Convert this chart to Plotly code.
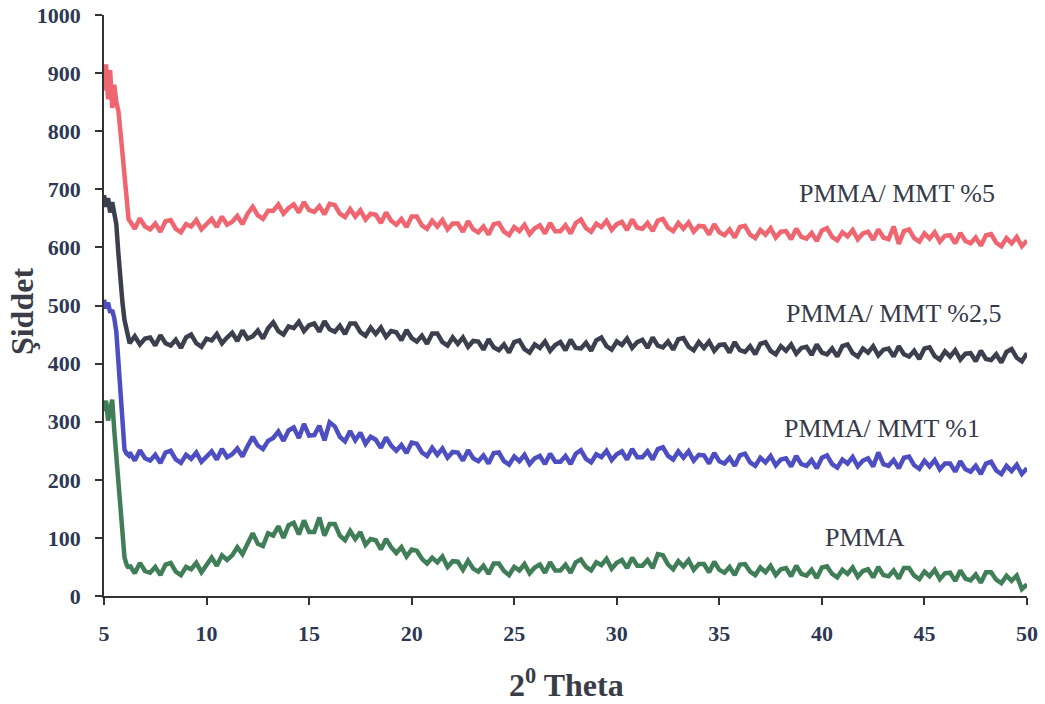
import plotly.graph_objects as go

# ---- data (2-theta in degrees, intensity) ----
theta_start = [5.0, 5.1, 5.2, 5.3, 5.4, 5.5, 5.6, 5.7, 5.8, 5.9, 6.0, 6.1, 6.2]
theta_main = [round(6.25 + 0.25 * i, 2) for i in range(176)]  # 6.25 ... 50.0 sampling grid
two_theta = theta_start + theta_main

pmma_mmt5 = [870, 915, 855, 905, 840, 880, 850, 835, 800, 760, 720, 680, 648,
    646, 632, 650, 636, 631, 641, 627, 645, 647, 632, 626, 640, 636, 647, 631, 641,
    649, 635, 653, 639, 644, 654, 640, 658, 670, 655, 649, 663, 663, 674, 658, 668,
    674, 660, 678, 664, 661, 671, 657, 675, 673, 658, 652, 666, 653, 664, 648, 658,
    656, 642, 660, 646, 639, 649, 635, 653, 653, 638, 632, 646, 636, 647, 631, 641,
    641, 627, 645, 631, 626, 636, 622, 640, 642, 627, 621, 635, 628, 639, 623, 633,
    638, 624, 642, 628, 628, 638, 624, 642, 648, 633, 627, 641, 635, 646, 630, 640,
    644, 630, 648, 634, 632, 642, 628, 646, 649, 634, 628, 642, 632, 643, 627, 637,
    636, 622, 640, 626, 621, 631, 617, 635, 637, 622, 616, 630, 622, 633, 617, 627,
    628, 614, 632, 618, 615, 625, 611, 629, 633, 618, 612, 626, 619, 630, 614, 624,
    627, 613, 631, 617, 614, 636, 606, 628, 631, 616, 610, 624, 615, 626, 610, 620,
    621, 607, 625, 611, 607, 617, 603, 621, 623, 608, 602, 616, 607, 618, 602, 612]

pmma_mmt25 = [690, 670, 685, 660, 678, 655, 640, 590, 540, 505, 475, 458, 448,
    435, 447, 433, 443, 445, 431, 449, 435, 431, 441, 427, 445, 450, 435, 429, 443,
    440, 451, 435, 445, 453, 439, 457, 443, 447, 457, 443, 461, 471, 456, 450, 464,
    461, 472, 456, 466, 469, 455, 473, 459, 455, 465, 451, 469, 469, 454, 448, 462,
    451, 462, 446, 456, 454, 440, 458, 444, 438, 448, 434, 452, 452, 437, 431, 445,
    434, 445, 429, 439, 438, 424, 442, 428, 423, 433, 419, 437, 440, 425, 419, 433,
    427, 438, 422, 432, 437, 423, 441, 427, 426, 436, 422, 440, 445, 430, 424, 438,
    432, 443, 427, 437, 441, 427, 445, 431, 428, 438, 424, 442, 444, 429, 423, 437,
    427, 438, 422, 432, 433, 419, 437, 423, 420, 430, 416, 434, 437, 422, 416, 430,
    422, 433, 417, 427, 429, 415, 433, 419, 416, 426, 412, 430, 433, 418, 412, 426,
    419, 430, 414, 424, 426, 412, 430, 416, 412, 422, 408, 426, 428, 413, 407, 421,
    412, 423, 407, 417, 418, 404, 422, 408, 406, 416, 402, 420, 425, 410, 404, 418]

pmma_mmt1 = [510, 495, 505, 488, 492, 478, 455, 400, 345, 280, 252, 245, 242,
    247, 233, 251, 237, 233, 243, 229, 247, 250, 235, 229, 243, 236, 247, 231, 241,
    249, 235, 253, 239, 244, 254, 240, 258, 274, 259, 253, 267, 272, 283, 267, 285,
    290, 272, 296, 276, 277, 293, 268, 299, 292, 274, 266, 284, 268, 281, 262, 274,
    269, 255, 273, 259, 250, 260, 246, 264, 262, 247, 241, 255, 243, 254, 238, 248,
    247, 233, 251, 237, 232, 242, 228, 246, 247, 232, 226, 240, 232, 243, 227, 237,
    241, 227, 245, 231, 231, 241, 227, 245, 251, 236, 230, 244, 239, 250, 234, 244,
    249, 235, 253, 239, 239, 249, 235, 253, 256, 241, 235, 249, 238, 249, 233, 243,
    242, 228, 246, 232, 228, 238, 224, 242, 245, 230, 224, 238, 230, 241, 225, 235,
    237, 223, 241, 227, 224, 234, 220, 238, 242, 227, 221, 235, 228, 239, 223, 233,
    237, 223, 247, 227, 224, 234, 220, 238, 240, 225, 219, 233, 223, 234, 218, 228,
    228, 214, 232, 218, 214, 224, 210, 228, 231, 216, 210, 224, 215, 226, 210, 220]

pmma = [318, 336, 302, 322, 338, 285, 240, 198, 140, 92, 66, 54, 48,
    53, 39, 57, 43, 40, 50, 36, 54, 57, 42, 36, 50, 46, 57, 41, 55,
    66, 52, 70, 62, 70, 84, 72, 90, 108, 90, 86, 108, 104, 120, 100, 122,
    126, 106, 130, 110, 110, 135, 104, 124, 124, 104, 96, 112, 98, 110, 88, 98,
    96, 80, 98, 84, 74, 84, 68, 80, 78, 64, 56, 66, 58, 68, 50, 60,
    59, 45, 61, 47, 42, 52, 38, 56, 56, 43, 36, 50, 44, 55, 39, 49,
    54, 40, 58, 44, 44, 54, 40, 58, 63, 50, 44, 58, 53, 64, 47, 57,
    62, 48, 66, 52, 52, 62, 48, 72, 70, 54, 46, 60, 51, 62, 45, 55,
    55, 41, 59, 45, 40, 50, 36, 54, 55, 42, 36, 49, 41, 52, 36, 46,
    48, 34, 52, 38, 35, 45, 31, 49, 51, 38, 32, 45, 38, 49, 33, 43,
    46, 32, 50, 36, 34, 44, 30, 48, 48, 35, 29, 42, 34, 45, 29, 39,
    40, 26, 44, 30, 27, 37, 23, 41, 41, 28, 22, 35, 26, 35, 12, 20]

series_names = ["PMMA/ MMT %5", "PMMA/ MMT %2,5", "PMMA/ MMT %1", "PMMA"]
series_values = [pmma_mmt5, pmma_mmt25, pmma_mmt1, pmma]
series_colors = ["#ef6570", "#3c3f4d", "#4c4ec2", "#3f7e56"]
label_x = [43.66, 43.52, 42.93, 42.10]
label_y = [693, 487, 289, 100]

x_ticks = [5, 10, 15, 20, 25, 30, 35, 40, 45, 50]
y_ticks = [0, 100, 200, 300, 400, 500, 600, 700, 800, 900, 1000]

fig = go.Figure()
for name, vals, col in zip(series_names, series_values, series_colors):
    fig.add_trace(go.Scatter(x=two_theta, y=vals, mode="lines", name=name,
                             line=dict(color=col, width=4.5), showlegend=False))

for name, lx, ly in zip(series_names, label_x, label_y):
    fig.add_annotation(x=lx, y=ly, xref="x", yref="y", text=name, showarrow=False,
                       xanchor="center", yanchor="middle",
                       font=dict(family="Liberation Serif", size=26, color="#353a4a"))

fig.add_annotation(x=-0.088, y=0.49, xref="paper", yref="paper", text="Şiddet",
                   textangle=-90, showarrow=False, xanchor="center", yanchor="middle",
                   font=dict(family="Liberation Serif", size=32, color="#3a3d47", weight="bold"))
fig.add_annotation(x=0.5016, y=-0.15, xref="paper", yref="paper", text="2<sup>0</sup> Theta",
                   showarrow=False, xanchor="center", yanchor="middle",
                   font=dict(family="Liberation Serif", size=32, color="#3a3d47", weight="bold"))

tickfont = dict(family="Liberation Serif", size=22, color="#2e3854", weight="bold")
fig.update_xaxes(range=[5, 50], tickvals=x_ticks, ticks="outside", ticklen=7, tickwidth=1.5,
                 tickcolor="#333", showline=True, linecolor="#333", linewidth=1.5,
                 showgrid=False, zeroline=False, tickfont=tickfont, ticklabelstandoff=10,
                 automargin=False)
fig.update_yaxes(range=[0, 1000], tickvals=y_ticks, ticks="outside", ticklen=7, tickwidth=1.5,
                 tickcolor="#333", showline=True, linecolor="#333", linewidth=1.5,
                 showgrid=False, zeroline=False, tickfont=tickfont, ticklabelstandoff=10,
                 automargin=False)

fig.update_layout(width=1045, height=704, margin=dict(l=104, r=18, t=15, b=108, autoexpand=False),
                  plot_bgcolor="white", paper_bgcolor="white")

fig.write_html("out.html")
